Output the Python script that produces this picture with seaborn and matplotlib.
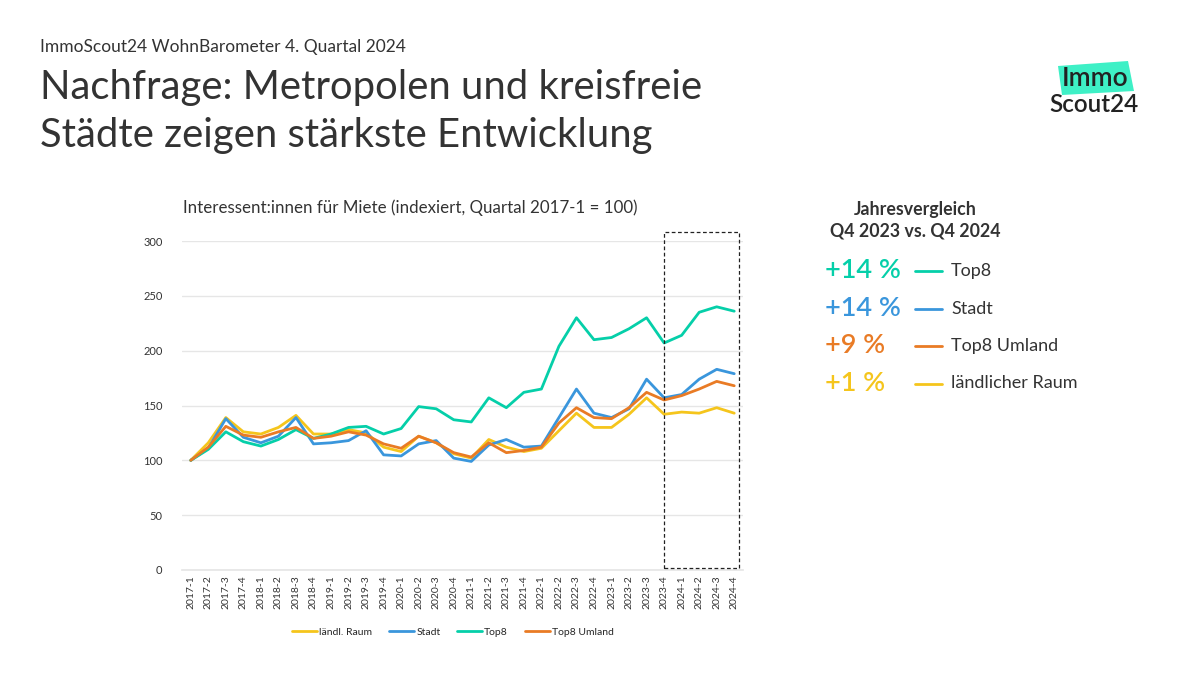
import numpy as np
import pandas as pd
import seaborn as sns
import matplotlib.pyplot as plt
from matplotlib.patches import Rectangle, Polygon
from matplotlib.lines import Line2D

# quarters 2017-1 .. 2024-4
quarters = ['{}-{}'.format(y, q) for y in range(2017, 2025) for q in range(1, 5)]

top8 = [100, 110, 126, 117, 113, 119, 128, 120, 124, 130, 131, 124, 129, 149, 147, 137,
        135, 157, 148, 162, 165, 204, 230, 210, 212, 220, 230, 207, 214, 235, 240, 236]
stadt = [100, 111, 138, 121, 116, 122, 139, 115, 116, 118, 127, 105, 104, 115, 118, 102,
         99, 114, 119, 112, 113, 139, 165, 143, 139, 147, 174, 157, 160, 174, 183, 179]
umland = [100, 112, 131, 123, 121, 126, 130, 120, 122, 126, 123, 115, 111, 122, 116, 107,
          103, 116, 107, 109, 112, 134, 148, 139, 138, 148, 162, 155, 159, 165, 172, 168]
laendl = [100, 116, 139, 126, 124, 130, 141, 124, 124, 128, 125, 112, 108, 122, 116, 106,
          102, 119, 112, 108, 111, 127, 143, 130, 130, 142, 157, 142, 144, 143, 148, 143]

series_names = ['ländl. Raum', 'Stadt', 'Top8', 'Top8 Umland']
series_values = [laendl, stadt, top8, umland]

# yearly comparison panel
yoy_labels = ['+14 %', '+14 %', '+9 %', '+1 %']
yoy_names = ['Top8', 'Stadt', 'Top8 Umland', 'ländlicher Raum']

c_yellow = '#f5c51c'
c_blue = '#3a96dc'
c_teal = '#05cfa9'
c_orange = '#e97b25'
palette = {'ländl. Raum': c_yellow, 'Stadt': c_blue, 'Top8': c_teal, 'Top8 Umland': c_orange}
yoy_colors = [c_teal, c_blue, c_orange, c_yellow]

rows = []
for name, vals in zip(series_names, series_values):
    for i, v in enumerate(vals):
        rows.append({'idx': i, 'Quartal': quarters[i], 'Wert': v, 'Gebiet': name})
df = pd.DataFrame(rows)

sns.set_theme(style='white')
plt.rcParams['font.family'] = ['Lato', 'DejaVu Sans']
txt = '#333333'

fig = plt.figure(figsize=(12, 6.76), dpi=100)
ax = fig.add_axes([182 / 1200, 1 - 570 / 676, (743 - 182) / 1200, (570 - 241) / 676])

sns.lineplot(data=df, x='idx', y='Wert', hue='Gebiet', hue_order=series_names,
             palette=palette, linewidth=2, ax=ax, legend=False)

ax.set_xlim(-0.5, 31.5)
ax.set_ylim(0, 300)
ax.set_yticks(range(0, 301, 50))
ax.set_xticks(range(len(quarters)))
ax.set_xticklabels(quarters, rotation=90, fontsize=7.5, color=txt)
ax.tick_params(axis='y', labelsize=8, colors=txt, length=0, pad=14)
ax.tick_params(axis='x', length=0, pad=4)
ax.set_xlabel('')
ax.set_ylabel('')
ax.yaxis.grid(True, color='#e6e6e6', linewidth=1)
ax.set_axisbelow(True)
for s in ['top', 'right', 'left']:
    ax.spines[s].set_visible(False)
ax.spines['bottom'].set_color('#e6e6e6')

# dashed highlight box for the last year
ax.add_patch(Rectangle((27, 2), 4.25, 306, fill=False, edgecolor='#222222',
                       linestyle=(0, (3, 2)), linewidth=0.9, clip_on=False, zorder=5))

# bottom legend
handles = [Line2D([0], [0], color=palette[n], linewidth=2) for n in series_names]
fig.legend(handles, series_names, loc='center', bbox_to_anchor=(453 / 1200, 1 - 632 / 676),
           ncol=4, frameon=False, fontsize=7.5, handlelength=2.4, columnspacing=1.6,
           handletextpad=0.2)

# titles
fig.text(40 / 1200, 1 - 47 / 676, 'ImmoScout24 WohnBarometer 4. Quartal 2024',
         fontsize=12.5, color=txt, va='center')
fig.text(40 / 1200, 1 - 88 / 676, 'Nachfrage: Metropolen und kreisfreie',
         fontsize=28.8, color=txt, va='center')
fig.text(40 / 1200, 1 - 135 / 676, 'Städte zeigen stärkste Entwicklung',
         fontsize=28.8, color=txt, va='center')
fig.text(183 / 1200, 1 - 208 / 676, 'Interessent:innen für Miete (indexiert, Quartal 2017-1 = 100)',
         fontsize=12.2, color=txt, va='center')

# right panel
fig.text(915 / 1200, 1 - 209 / 676, 'Jahresvergleich', fontsize=12.8, fontweight='bold',
         color=txt, ha='center', va='center')
fig.text(915 / 1200, 1 - 231 / 676, 'Q4 2023 vs. Q4 2024', fontsize=12.8, fontweight='bold',
         color=txt, ha='center', va='center')
for k, (lab, name, col) in enumerate(zip(yoy_labels, yoy_names, yoy_colors)):
    yy = 1 - (271 + k * 37.5) / 676
    fig.text(825 / 1200, yy, lab, fontsize=19.5, color=col, va='center', fontweight='semibold')
    fig.add_artist(Line2D([915 / 1200, 942 / 1200], [yy, yy], color=col, linewidth=2,
                          transform=fig.transFigure))
    fig.text(951 / 1200, yy, name, fontsize=13, color=txt, va='center')

# logo
logo = Polygon([(1058 / 1200, 1 - 66 / 676), (1128 / 1200, 1 - 61 / 676),
                (1134 / 1200, 1 - 91 / 676), (1062 / 1200, 1 - 95 / 676)],
               closed=True, facecolor='#3ef0c6', edgecolor='none', transform=fig.transFigure)
fig.add_artist(logo)
fig.text(1095 / 1200, 1 - 78 / 676, 'Immo', fontsize=19, color='#222222', ha='center',
         va='center', fontweight='semibold')
fig.text(1094 / 1200, 1 - 104 / 676, 'Scout24', fontsize=17.5, color='#222222', ha='center',
         va='center', fontweight='semibold')

fig.savefig('out.png', dpi=100, facecolor='white')
